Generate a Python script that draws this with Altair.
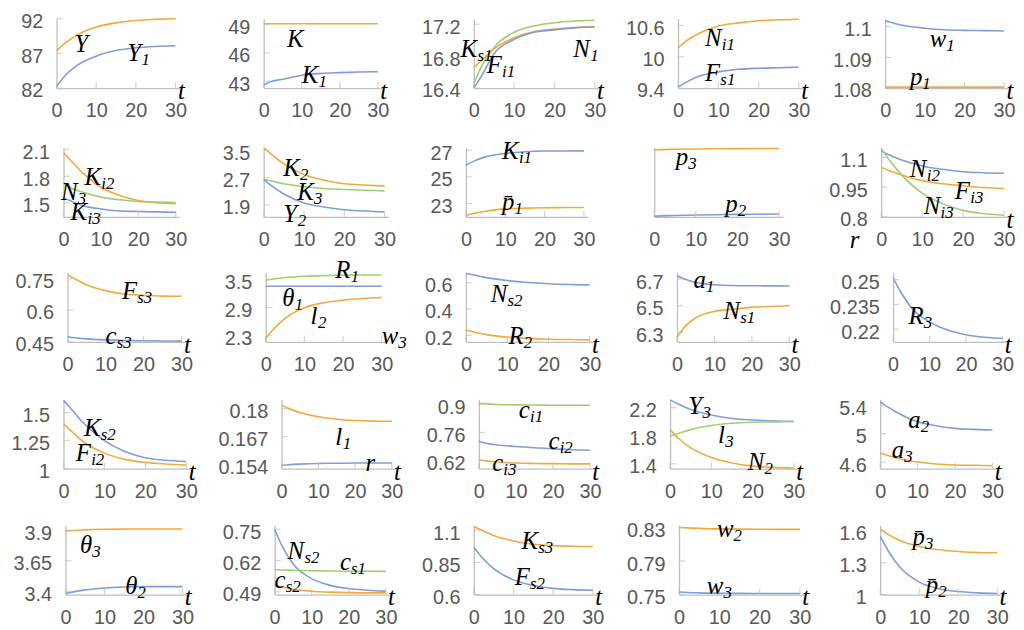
import altair as alt
import pandas as pd

T = [0, 2, 5, 10, 15, 20, 25, 30]
X_TICKS = [0, 10, 20, 30]

# ---- row 1 ----
Y_ = [87.4, 88.4, 89.6, 90.8, 91.4, 91.75, 91.9, 92.0]
Y1 = [82.2, 83.7, 85.2, 86.6, 87.4, 87.8, 88.0, 88.1]
K_ = [49.1, 49.1, 49.1, 49.1, 49.1, 49.1, 49.1, 49.1]
K1 = [42.58, 42.95, 43.2, 43.63, 43.81, 43.9, 43.96, 44.0]
P3_GREEN = [16.46, 16.68, 16.91, 17.10, 17.18, 17.22, 17.24, 17.25]
P3_ORANGE = [16.66, 16.75, 16.89, 17.03, 17.11, 17.14, 17.16, 17.17]
P3_BLUE = [16.40, 16.56, 16.83, 17.01, 17.10, 17.13, 17.155, 17.165]
NI1 = [10.17, 10.30, 10.44, 10.59, 10.65, 10.69, 10.71, 10.72]
FS1 = [9.42, 9.51, 9.62, 9.71, 9.76, 9.78, 9.79, 9.80]
W1 = [1.1019, 1.1012, 1.1003, 1.0995, 1.0990, 1.0988, 1.0987, 1.0986]
P1_ = [1.0803, 1.0803, 1.0803, 1.0803, 1.0803, 1.0803, 1.0803, 1.0803]
# ---- row 2 ----
KI2 = [2.066, 1.973, 1.844, 1.677, 1.584, 1.528, 1.503, 1.492]
N3 = [1.714, 1.668, 1.622, 1.566, 1.536, 1.517, 1.510, 1.506]
KI3 = [1.558, 1.522, 1.473, 1.433, 1.411, 1.405, 1.400, 1.395]
K2 = [3.57, 3.37, 3.10, 2.79, 2.62, 2.52, 2.48, 2.45]
K3 = [2.65, 2.60, 2.52, 2.43, 2.38, 2.35, 2.33, 2.31]
Y2 = [2.65, 2.455, 2.217, 1.958, 1.835, 1.757, 1.72, 1.69]
KI1 = [25.87, 26.18, 26.5, 26.76, 26.89, 26.94, 26.94, 26.95]
PB1 = [22.1, 22.25, 22.43, 22.6, 22.66, 22.69, 22.70, 22.71]
P3_ = [0.965, 0.970, 0.975, 0.980, 0.982, 0.984, 0.985, 0.985]
P2_ = [0.010, 0.015, 0.020, 0.027, 0.032, 0.036, 0.039, 0.041]
NI2 = [1.133, 1.112, 1.087, 1.057, 1.040, 1.028, 1.023, 1.020]
FI3 = [1.050, 1.033, 1.012, 0.983, 0.967, 0.957, 0.948, 0.943]
NI3 = [1.145, 1.087, 1.012, 0.920, 0.867, 0.833, 0.817, 0.808]
# ---- row 3 ----
FS3 = [0.7675, 0.747, 0.72, 0.692, 0.676, 0.67, 0.666, 0.665]
CS3 = [0.474, 0.469, 0.464, 0.459, 0.456, 0.455, 0.454, 0.453]
R1 = [3.484, 3.51, 3.54, 3.568, 3.582, 3.59, 3.594, 3.596]
TH1 = [3.356, 3.356, 3.356, 3.356, 3.356, 3.356, 3.356, 3.356]
L2 = [2.248, 2.438, 2.67, 2.897, 3.003, 3.06, 3.095, 3.116]
NS2 = [0.672, 0.66, 0.64, 0.618, 0.603, 0.594, 0.588, 0.584]
R2 = [0.24, 0.223, 0.205, 0.186, 0.176, 0.17, 0.167, 0.165]
A1 = [6.725, 6.70, 6.675, 6.658, 6.652, 6.65, 6.649, 6.648]
NS1 = [6.263, 6.34, 6.41, 6.458, 6.475, 6.488, 6.495, 6.50]
R3 = [0.251, 0.243, 0.233, 0.2245, 0.2195, 0.2167, 0.2152, 0.2145]
# ---- row 4 ----
KS2 = [1.611, 1.528, 1.403, 1.25, 1.153, 1.097, 1.075, 1.064]
FI2 = [1.403, 1.333, 1.236, 1.139, 1.083, 1.056, 1.042, 1.033]
L1 = [0.1816, 0.1800, 0.1782, 0.1762, 0.1751, 0.1745, 0.1742, 0.1741]
R_ = [0.1537, 0.1540, 0.1543, 0.1546, 0.1547, 0.1548, 0.1548, 0.1548]
CI1 = [0.906, 0.903, 0.900, 0.898, 0.897, 0.896, 0.896, 0.896]
CI2 = [0.716, 0.706, 0.697, 0.690, 0.684, 0.678, 0.674, 0.671]
CI3 = [0.624, 0.618, 0.612, 0.607, 0.605, 0.604, 0.603, 0.603]
Y3 = [2.312, 2.252, 2.175, 2.097, 2.047, 2.024, 2.010, 2.006]
L3 = [1.796, 1.832, 1.887, 1.946, 1.978, 1.992, 1.997, 2.000]
N2 = [1.887, 1.764, 1.627, 1.490, 1.412, 1.367, 1.348, 1.339]
A2 = [5.448, 5.378, 5.285, 5.168, 5.113, 5.075, 5.061, 5.052]
A3 = [4.727, 4.694, 4.648, 4.601, 4.573, 4.559, 4.555, 4.550]
# ---- row 5 ----
TH3 = [3.892, 3.898, 3.903, 3.908, 3.910, 3.911, 3.911, 3.911]
TH2 = [3.381, 3.395, 3.411, 3.427, 3.435, 3.438, 3.438, 3.438]
NS2B = [0.750, 0.681, 0.606, 0.545, 0.517, 0.504, 0.497, 0.493]
CS1 = [0.583, 0.581, 0.580, 0.578, 0.577, 0.576, 0.576, 0.575]
CS2 = [0.520, 0.510, 0.501, 0.493, 0.489, 0.487, 0.486, 0.486]
KS3 = [1.130, 1.100, 1.060, 1.017, 0.991, 0.981, 0.976, 0.974]
FS2 = [0.966, 0.890, 0.802, 0.714, 0.671, 0.648, 0.638, 0.633]
W2 = [0.8304, 0.8298, 0.8292, 0.8286, 0.8283, 0.8281, 0.8280, 0.8280]
W3 = [0.7531, 0.7525, 0.7520, 0.7516, 0.7514, 0.7513, 0.7512, 0.7512]
PB3 = [1.621, 1.568, 1.511, 1.454, 1.423, 1.407, 1.397, 1.394]
PB2 = [1.549, 1.416, 1.259, 1.117, 1.054, 1.028, 1.016, 1.010]

BLUE, ORANGE, GREEN = "#7f9ed8", "#f3aa3c", "#a0cf70"

# y domains and tick values
DOMS = [[82, 92], [42.26, 49.63], [16.4, 17.27], [9.4, 10.73], [1.08, 1.1026],
        [1.344, 2.122], [1.547, 3.58], [22.0, 27.2], [0, 1], [0.8, 1.15],
        [0.45, 0.778], [2.17, 3.65], [0.15, 0.68], [6.23, 6.75], [0.2124, 0.2544],
        [1.0, 1.62], [0.1522, 0.1843], [0.579, 0.926], [1.33, 2.32], [4.508, 5.484],
        [3.373, 3.942], [0.479, 0.767], [0.6, 1.14], [0.75, 0.833], [1.0, 1.655]]
TICKS = [[82, 87, 92], [43, 46, 49], [16.4, 16.8, 17.2], [9.4, 10, 10.6], [1.08, 1.09, 1.1],
         [1.5, 1.8, 2.1], [1.9, 2.7, 3.5], [23, 25, 27], [], [0.8, 0.95, 1.1],
         [0.45, 0.6, 0.75], [2.3, 2.9, 3.5], [0.2, 0.4, 0.6], [6.3, 6.5, 6.7], [0.22, 0.235, 0.25],
         [1, 1.25, 1.5], [0.154, 0.167, 0.18], [0.62, 0.76, 0.9], [1.4, 1.8, 2.2], [4.6, 5, 5.4],
         [3.4, 3.65, 3.9], [0.49, 0.62, 0.75], [0.6, 0.85, 1.1], [0.75, 0.79, 0.83], [1, 1.3, 1.6]]

SERIES = [
    [(Y_, ORANGE), (Y1, BLUE)],
    [(K_, ORANGE), (K1, BLUE)],
    [(P3_GREEN, GREEN), (P3_ORANGE, ORANGE), (P3_BLUE, BLUE)],
    [(NI1, ORANGE), (FS1, BLUE)],
    [(W1, BLUE), (P1_, ORANGE)],
    [(KI2, ORANGE), (N3, GREEN), (KI3, BLUE)],
    [(K2, ORANGE), (K3, GREEN), (Y2, BLUE)],
    [(KI1, BLUE), (PB1, ORANGE)],
    [(P3_, ORANGE), (P2_, BLUE)],
    [(NI2, BLUE), (FI3, ORANGE), (NI3, GREEN)],
    [(FS3, ORANGE), (CS3, BLUE)],
    [(R1, GREEN), (TH1, BLUE), (L2, ORANGE)],
    [(NS2, BLUE), (R2, ORANGE)],
    [(A1, BLUE), (NS1, ORANGE)],
    [(R3, BLUE)],
    [(KS2, BLUE), (FI2, ORANGE)],
    [(L1, ORANGE), (R_, BLUE)],
    [(CI1, GREEN), (CI2, BLUE), (CI3, ORANGE)],
    [(Y3, BLUE), (L3, GREEN), (N2, ORANGE)],
    [(A2, BLUE), (A3, ORANGE)],
    [(TH3, ORANGE), (TH2, BLUE)],
    [(NS2B, BLUE), (CS1, GREEN), (CS2, ORANGE)],
    [(KS3, ORANGE), (FS2, BLUE)],
    [(W2, ORANGE), (W3, BLUE)],
    [(PB3, ORANGE), (PB2, BLUE)],
]

# curve labels: (symbol, subscript, t, value)
LABELS = [
    [("Y", "", 4.5, 88.4), ("Y", "1", 17.8, 87.0)],
    [("K", "", 6.1, 47.5), ("K", "1", 10.0, 43.63)],
    [("K", "s1", -3.3, 16.89), ("F", "i1", 3.2, 16.69), ("N", "1", 24.7, 16.89)],
    [("N", "i1", 6.7, 10.35), ("F", "s1", 6.7, 9.68)],
    [("w", "1", 11.25, 1.096), ("p", "1", 6.25, 1.0836)],
    [("K", "i2", 5.6, 1.788), ("N", "3", -0.7, 1.622), ("K", "i3", 1.9, 1.40)],
    [("K", "2", 4.85, 2.98), ("K", "3", 8.3, 2.27), ("Y", "2", 4.85, 1.64)],
    [("K", "i1", 9.2, 26.93), ("p\u0304", "1", 9.2, 23.09)],
    [("p", "3", 5.2, 0.857), ("p", "2", 17.1, 0.186)],
    [("N", "i2", 7.0, 1.04), ("F", "i3", 18.0, 0.928), ("N", "i3", 10.4, 0.853), ("r", "", -7.7, 0.682)],
    [("F", "s3", 14.3, 0.692), ("c", "s3", 10.0, 0.478)],
    [("R", "1", 18.0, 3.69), ("\u03b8", "1", 4.3, 3.11), ("l", "2", 11.6, 2.72), ("w", "3", 30.0, 2.30)],
    [("N", "s2", 6.0, 0.517), ("R", "2", 10.3, 0.193)],
    [("a", "1", 4.4, 6.69), ("N", "s1", 12.4, 6.46)],
    [("R", "3", 4.2, 0.228)],
    [("K", "s2", 5.0, 1.36), ("F", "i2", 3.0, 1.14)],
    [("l", "1", 14.6, 0.167), ("r", "", 22.8, 0.1548)],
    [("c", "i1", 10.8, 0.871), ("c", "i2", 18.8, 0.719), ("c", "i3", 3.6, 0.607)],
    [("Y", "3", 4.4, 2.22), ("l", "3", 11.6, 1.81), ("N", "2", 18.8, 1.42)],
    [("a", "2", 7.5, 5.19), ("a", "3", 3.1, 4.77)],
    [("\u03b8", "3", 3.7, 3.78), ("\u03b8", "2", 15.3, 3.446)],
    [("N", "s2", 3.5, 0.66), ("c", "s1", 17.6, 0.613), ("c", "s2", 0.0, 0.538)],
    [("K", "s3", 12.0, 1.017), ("F", "s2", 10.3, 0.739)],
    [("w", "2", 9.4, 0.828), ("w", "3", 6.9, 0.760)],
    [("p\u0304", "3", 8.3, 1.543), ("p\u0304", "2", 11.7, 1.085)],
]
NO_T = {5, 6, 7, 8, 11}

# layout (page px): left edge of each plot, plot widths, row tops
LEFTS = [[54, 263, 475, 681, 890], [61, 263, 467, 657, 886], [65, 265, 467, 680, 898],
         [61, 281, 480, 673, 885], [63, 274, 475, 682, 885]]
WIDTHS = [[124, 119, 126, 126, 124], [117, 126, 123, 130, 128], [119, 121, 129, 117, 114],
          [128, 115, 116, 129, 117], [122, 116, 124, 126, 122]]
TOPS = [13, 143, 269, 397, 524]
H = 70

SANS = "Liberation Sans"
SERIF = "Liberation Serif"
GRAY = "#595959"
AXC = "#bfbfbf"
FS_MAIN, FS_SUB = 25, 17
ADV = {"Y": 0.58, "K": 0.68, "N": 0.68, "F": 0.62, "R": 0.62, "a": 0.5, "c": 0.45, "l": 0.3,
       "p": 0.5, "p\u0304": 0.5, "w": 0.67, "r": 0.4, "\u03b8": 0.5}


def panel(i, W):
    dom = DOMS[i]
    ticks = TICKS[i]
    xs = alt.Scale(domain=[0, 31], nice=False, zero=False)
    ys = alt.Scale(domain=dom, nice=False, zero=False)
    xaxis = alt.Axis(values=X_TICKS, format="d", title="", grid=False, ticks=False, tickSize=0,
                     labelPadding=13, labelFont=SANS, labelFontSize=20, labelColor=GRAY,
                     domainColor=AXC, domainWidth=1.3, labelFlush=False, labelOverlap=False)
    if ticks:
        yaxis = alt.Axis(values=ticks, format=".4~g", title="", grid=False, ticks=False, tickSize=0,
                         labelPadding=14, labelOffset=3, labelFont=SANS, labelFontSize=20,
                         labelColor=GRAY, domainColor=AXC, domainWidth=1.3, labelOverlap=False)
    else:
        yaxis = alt.Axis(labels=False, ticks=False, tickSize=0, title="", grid=False,
                         domainColor=AXC, domainWidth=1.3)
    X = alt.X("t:Q", scale=xs, axis=xaxis)
    Yc = alt.Y("v:Q", scale=ys, axis=yaxis)

    rows = []
    for k, (vals, col) in enumerate(SERIES[i]):
        for t, v in zip(T, vals):
            rows.append({"t": t, "v": v, "c": col, "s": str(k)})
    lines = alt.Chart(pd.DataFrame(rows)).mark_line(interpolate="monotone", strokeWidth=1.6).encode(
        x=X, y=Yc, color=alt.Color("c:N", scale=None), detail="s:N")
    layers = [lines]

    xt = pd.DataFrame({"t": X_TICKS, "v": [dom[0]] * len(X_TICKS)})
    layers.append(alt.Chart(xt).mark_tick(orient="vertical", size=6, thickness=1.2, color=AXC,
                                          yOffset=-3).encode(x=X, y=Yc))
    if ticks:
        yt = pd.DataFrame({"t": [0] * len(ticks), "v": ticks})
        layers.append(alt.Chart(yt).mark_tick(orient="horizontal", size=6, thickness=1.2, color=AXC,
                                              xOffset=3).encode(x=X, y=Yc))

    pxu = W / 31.0
    base = pd.DataFrame({"t": [l[2] for l in LABELS[i]], "v": [l[3] for l in LABELS[i]],
                         "txt": [l[0] for l in LABELS[i]]})
    layers.append(alt.Chart(base).mark_text(align="left", baseline="middle", font=SERIF,
                                            fontStyle="italic", fontSize=FS_MAIN, color="black").encode(
        x=X, y=Yc, text="txt:N"))
    subs = [l for l in LABELS[i] if l[1]]
    if subs:
        sdf = pd.DataFrame({"t": [l[2] + ADV[l[0]] * FS_MAIN / pxu for l in subs],
                            "v": [l[3] for l in subs], "txt": [l[1] for l in subs]})
        layers.append(alt.Chart(sdf).mark_text(align="left", baseline="middle", font=SERIF,
                                               fontStyle="italic", fontSize=FS_SUB, dy=7,
                                               color="black").encode(x=X, y=Yc, text="txt:N"))
    if i not in NO_T:
        tdf = pd.DataFrame({"t": [30.6], "v": [dom[0]], "txt": ["t"]})
        layers.append(alt.Chart(tdf).mark_text(align="left", baseline="middle", font=SERIF,
                                               fontStyle="italic", fontSize=FS_MAIN, dy=3,
                                               color="black").encode(x=X, y=Yc, text="txt:N"))
    return alt.layer(*layers).properties(width=W, height=H)


def spacer(w, h):
    return alt.Chart(pd.DataFrame({"a": [0]})).mark_point(opacity=0).encode(
        x=alt.value(0), y=alt.value(0)).properties(width=w, height=h)


rows = []
for r in range(5):
    items = []
    prev = 8
    for c in range(5):
        left = LEFTS[r][c]
        W = WIDTHS[r][c]
        items.append(spacer(max(left - prev, 1), H))
        items.append(panel(r * 5 + c, W))
        prev = left + W
    rows.append(alt.hconcat(*items, spacing=0, bounds="flush"))

# nested rows count as zero height in a flush layout, so spacers carry the full row pitch
vitems = [spacer(1, TOPS[0] - 8), rows[0]]
for r in range(1, 5):
    vitems.append(spacer(1, TOPS[r] - TOPS[r - 1]))
    vitems.append(rows[r])

chart = alt.vconcat(*vitems, spacing=0, bounds="flush").configure_view(strokeWidth=0).properties(
    padding=0, background="white")

chart.save("out.html", embed_options={"renderer": "svg", "actions": False})
